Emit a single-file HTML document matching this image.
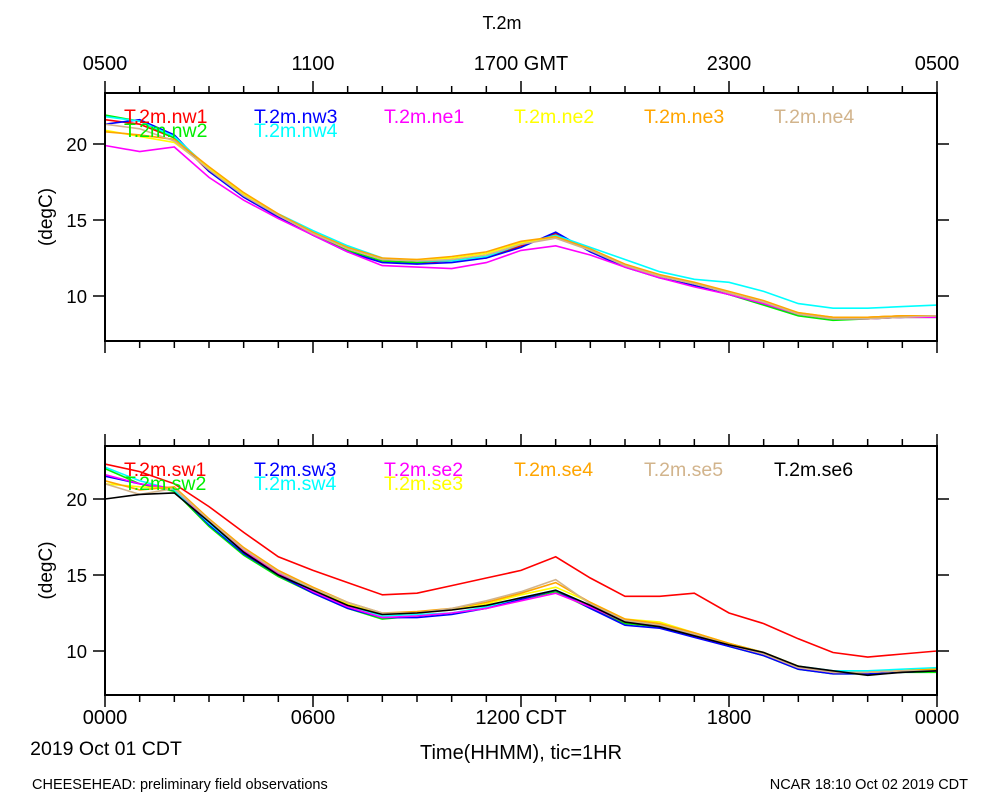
<!DOCTYPE html>
<html><head><meta charset="utf-8"><style>
body{margin:0;background:#fff;}
svg{display:block;font-family:"Liberation Sans",sans-serif;}
</style></head><body>
<svg id="c" width="1000" height="800" viewBox="0 0 1000 800">
<text x="502" y="29" text-anchor="middle" font-size="18">T.2m</text>
<text x="968" y="789" text-anchor="end" font-size="14.5">NCAR 18:10 Oct 02 2019 CDT</text>
<text x="32" y="789" font-size="14.5">CHEESEHEAD: preliminary field observations</text>
<text x="521" y="759" text-anchor="middle" font-size="20">Time(HHMM), tic=1HR</text>
<text x="106" y="755" text-anchor="middle" font-size="19.5">2019 Oct 01 CDT</text>
</svg>
<script>
const hours=[0,1,2,3,4,5,6,7,8,9,10,11,12,13,14,15,16,17,18,19,20,21,22,23,24];
const topTicks=["0500","1100","1700 GMT","2300","0500"];
const botTicks=["0000","0600","1200 CDT","1800","0000"];
const yTicks=[10,15,20];
// top panel
const nw1=[21.6,21.3,20.4,18.2,16.6,15.3,14.0,13.0,12.3,12.2,12.3,12.5,13.3,14.1,13.0,12.0,11.3,10.8,10.2,9.5,8.8,8.6,8.6,8.7,8.7];
const nw2=[21.9,21.5,20.4,18.3,16.6,15.2,14.0,13.0,12.3,12.2,12.4,12.6,13.4,14.0,13.0,12.0,11.3,10.7,10.1,9.4,8.7,8.4,8.5,8.6,8.6];
const nw3=[21.3,21.6,20.6,18.2,16.5,15.2,14.0,12.9,12.2,12.1,12.2,12.5,13.2,14.2,12.9,11.9,11.2,10.7,10.1,9.5,8.8,8.5,8.5,8.6,8.7];
const nw4=[21.8,21.5,20.5,18.4,16.7,15.4,14.3,13.3,12.5,12.3,12.3,12.6,13.4,14.0,13.2,12.4,11.6,11.1,10.9,10.3,9.5,9.2,9.2,9.3,9.4];
const ne1=[19.9,19.5,19.8,17.8,16.3,15.1,14.0,12.9,12.0,11.9,11.8,12.2,13.0,13.3,12.7,11.9,11.2,10.6,10.1,9.5,8.8,8.5,8.5,8.6,8.6];
const ne2=[20.9,20.5,20.1,18.4,16.7,15.3,14.1,13.1,12.4,12.4,12.5,12.8,13.5,13.9,13.0,12.0,11.3,10.8,10.2,9.6,8.9,8.6,8.6,8.7,8.7];
const ne3=[20.8,20.6,20.3,18.5,16.8,15.4,14.2,13.2,12.5,12.4,12.6,12.9,13.6,13.9,13.1,12.1,11.4,10.9,10.3,9.7,8.9,8.6,8.6,8.7,8.7];
const ne4=[21.3,21.0,20.2,18.3,16.6,15.3,14.1,13.1,12.4,12.3,12.4,12.7,13.4,13.8,13.0,12.0,11.3,10.8,10.2,9.6,8.8,8.5,8.5,8.6,8.7];
// bottom panel
const sw1=[22.3,21.8,21.0,19.5,17.8,16.2,15.3,14.5,13.7,13.8,14.3,14.8,15.3,16.2,14.8,13.6,13.6,13.8,12.5,11.8,10.8,9.9,9.6,9.8,10.0];
const sw2=[22.0,21.0,20.5,18.2,16.3,14.9,13.8,12.8,12.1,12.3,12.5,12.8,13.4,13.9,12.8,11.8,11.6,11.0,10.3,9.7,8.8,8.5,8.5,8.6,8.6];
const sw3=[21.5,21.0,20.6,18.3,16.4,15.0,13.8,12.8,12.2,12.2,12.4,12.8,13.4,14.0,12.8,11.7,11.5,10.9,10.3,9.7,8.8,8.5,8.5,8.6,8.7];
const sw4=[22.1,21.2,20.6,18.4,16.5,15.1,14.0,13.0,12.3,12.4,12.5,12.9,13.5,14.0,13.0,12.0,11.7,11.1,10.5,9.9,9.0,8.7,8.7,8.8,8.9];
const se2=[21.6,21.0,20.7,18.5,16.6,15.1,13.9,12.9,12.2,12.3,12.5,12.8,13.3,13.8,12.9,11.9,11.7,11.0,10.4,9.8,8.9,8.6,8.6,8.7,8.7];
const se3=[21.0,20.8,20.7,18.6,16.7,15.2,14.1,13.1,12.4,12.5,12.7,13.1,13.7,14.2,13.2,12.1,11.9,11.2,10.5,9.9,9.0,8.6,8.6,8.7,8.8];
const se4=[21.2,20.6,20.8,18.7,16.8,15.3,14.2,13.2,12.5,12.6,12.8,13.2,13.8,14.5,13.2,12.1,11.8,11.2,10.5,9.9,9.0,8.6,8.6,8.7,8.8];
const se5=[21.0,20.3,20.7,18.6,16.7,15.2,14.1,13.2,12.5,12.5,12.8,13.3,13.9,14.7,13.1,12.0,11.7,11.1,10.4,9.8,8.9,8.6,8.6,8.7,8.7];
const se6=[20.0,20.3,20.4,18.5,16.5,15.0,14.0,13.0,12.4,12.5,12.7,13.0,13.5,14.0,13.0,11.9,11.6,11.0,10.4,9.9,9.0,8.7,8.4,8.6,8.7];

const NS='http://www.w3.org/2000/svg';
const svg=document.getElementById('c');
const X0=105,X1=937;
function xs(h){return X0+(X1-X0)*h/24;}
function mk(tag,attrs,parent){const e=document.createElementNS(NS,tag);for(const k in attrs)e.setAttribute(k,attrs[k]);(parent||svg).appendChild(e);return e;}

function panel(p,top,bot,y10,series,topLabels,botLabels){
  const ys=v=>y10-(v-10)*15.2;
  const g=mk('g',{});
  
  
  for(let h=0;h<=24;h++){
    const x=xs(h),L=(h%6===0)?12:7;
    const t1=mk('line',{x1:x,x2:x,y1:top,y2:top-L,stroke:'#000','stroke-width':1.5},g);
    
    
    const t2=mk('line',{x1:x,x2:x,y1:bot,y2:bot+L,stroke:'#000','stroke-width':1.5},g);
    
    
  }
  yTicks.forEach(v=>{
    const y=ys(v);
    const a=mk('line',{x1:X0,x2:X0-12,y1:y,y2:y,stroke:'#000','stroke-width':1.5},g);
    
    
    const b=mk('line',{x1:X1,x2:X1+12,y1:y,y2:y,stroke:'#000','stroke-width':1.5},g);
    
    
    const t=mk('text',{x:X0-18,y:y+7,'text-anchor':'end','font-size':18.5},g);
    t.textContent=v;
    
    
  });
  const yt=mk('text',{x:0,y:0,'text-anchor':'middle','font-size':19,transform:`translate(52,${(top+bot)/2}) rotate(-90)`},g);
  yt.textContent='(degC)';
  
  
  if(topLabels){topLabels.forEach((s,i)=>{const t=mk('text',{x:xs(i*6),y:70,'text-anchor':'middle','font-size':20},g);t.textContent=s;
    
    });}
  if(botLabels){botLabels.forEach((s,i)=>{const t=mk('text',{x:xs(i*6),y:724,'text-anchor':'middle','font-size':20},g);t.textContent=s;
    
    });}
  const cp=mk('clipPath',{id:'cp'+p},g);
  mk('rect',{x:X0,y:top,width:X1-X0,height:bot-top},cp);
  const lg=mk('g',{'clip-path':`url(#cp${p})`},g);
  series.forEach(s=>{
    const d=s.data.map((v,i)=>(i?'L':'M')+xs(hours[i]).toFixed(1)+','+ys(v).toFixed(1)).join('');
    const pa=mk('path',{d:d,fill:'none',stroke:s.color,'stroke-width':1.6},lg);
    
    
  });
  series.forEach(s=>{
    const t=mk('text',{x:124+130*s.col,y:top+30+s.row*14,'font-size':19.5,fill:s.color},g);
    t.textContent=s.name;
    
    
  });
  const fr=mk('rect',{x:X0,y:top,width:X1-X0,height:bot-top,fill:'none',stroke:'#000','stroke-width':2},g);
  
  
}
panel('top',93,341,296,[
 {name:'T.2m.nw1',data:nw1,color:'#ff0000',col:0,row:0},
 {name:'T.2m.nw2',data:nw2,color:'#00ee00',col:0,row:1},
 {name:'T.2m.nw3',data:nw3,color:'#0000ff',col:1,row:0},
 {name:'T.2m.nw4',data:nw4,color:'#00ffff',col:1,row:1},
 {name:'T.2m.ne1',data:ne1,color:'#ff00ff',col:2,row:0},
 {name:'T.2m.ne2',data:ne2,color:'#ffff00',col:3,row:0},
 {name:'T.2m.ne3',data:ne3,color:'#ffa500',col:4,row:0},
 {name:'T.2m.ne4',data:ne4,color:'#d2b48c',col:5,row:0}
],topTicks,null);
panel('bottom',446,695,651,[
 {name:'T.2m.sw2',data:sw2,color:'#00ee00',col:0,row:1},
 {name:'T.2m.sw3',data:sw3,color:'#0000ff',col:1,row:0},
 {name:'T.2m.sw4',data:sw4,color:'#00ffff',col:1,row:1},
 {name:'T.2m.se2',data:se2,color:'#ff00ff',col:2,row:0},
 {name:'T.2m.se3',data:se3,color:'#ffff00',col:2,row:1},
 {name:'T.2m.se4',data:se4,color:'#ffa500',col:3,row:0},
 {name:'T.2m.se5',data:se5,color:'#d2b48c',col:4,row:0},
 {name:'T.2m.se6',data:se6,color:'#000000',col:5,row:0},
 {name:'T.2m.sw1',data:sw1,color:'#ff0000',col:0,row:0}
],null,botTicks);
</script>
</body></html>
